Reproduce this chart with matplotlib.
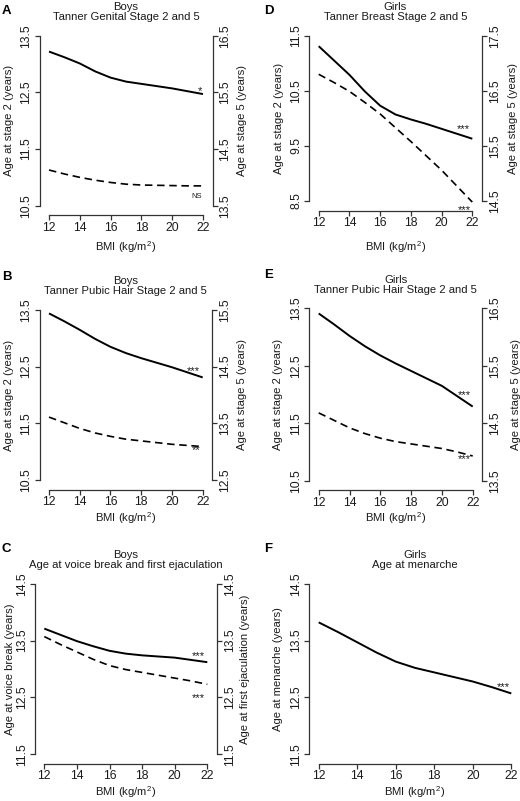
import numpy as np
import matplotlib.pyplot as plt

plt.rcParams['font.family'] = ['Liberation Sans', 'DejaVu Sans']
plt.rcParams['mathtext.fontset'] = 'custom'
plt.rcParams['mathtext.rm'] = 'Liberation Sans'
plt.rcParams['mathtext.it'] = 'Liberation Sans:italic'

W, H = 520, 801

# BMI grid (kg/m2)
bmi = [12, 13, 14, 15, 16, 17, 18, 19, 20, 21, 22]

# A: boys, Tanner genital stage 2 (left axis) and 5 (right axis)
a_stage2 = [13.22, 13.12, 13.01, 12.87, 12.76, 12.69, 12.65, 12.61, 12.57, 12.52, 12.47]
a_stage5 = [14.13, 14.06, 14.00, 13.95, 13.91, 13.88, 13.865, 13.86, 13.855, 13.85, 13.85]

# B: boys, Tanner pubic hair stage 2 and 5
b_stage2 = [13.44, 13.30, 13.15, 12.99, 12.85, 12.74, 12.65, 12.57, 12.49, 12.40, 12.31]
b_stage5 = [13.61, 13.51, 13.41, 13.33, 13.27, 13.22, 13.19, 13.16, 13.13, 13.11, 13.09]

# C: boys, voice break and first ejaculation
c_voice = [13.71, 13.60, 13.49, 13.40, 13.32, 13.27, 13.24, 13.22, 13.20, 13.16, 13.12]
c_ejac = [13.57, 13.43, 13.30, 13.17, 13.06, 12.99, 12.94, 12.89, 12.84, 12.79, 12.73]

# D: girls, Tanner breast stage 2 and 5
d_stage2 = [11.31, 11.05, 10.79, 10.49, 10.23, 10.07, 9.98, 9.90, 9.81, 9.72, 9.63]
d_stage5 = [16.80, 16.65, 16.49, 16.29, 16.08, 15.83, 15.58, 15.32, 15.06, 14.77, 14.48]

# E: girls, Tanner pubic hair stage 2 and 5
e_stage2 = [13.41, 13.22, 13.02, 12.84, 12.68, 12.54, 12.41, 12.28, 12.15, 11.97, 11.79]
e_stage5 = [14.68, 14.55, 14.42, 14.32, 14.24, 14.18, 14.14, 14.10, 14.06, 14.00, 13.93]

# F: girls, menarche
f_menarche = [13.82, 13.65, 13.47, 13.29, 13.13, 13.02, 12.94, 12.86, 12.78, 12.68, 12.57]

x_ticks = [12, 14, 16, 18, 20, 22]

fig = plt.figure(figsize=(W / 100, H / 100), dpi=100)

AX_COL = '#333333'
TXT_COL = '#1a1a1a'
TICK_FS = 8.7
LAB_FS = 8.1


def style_y(ax, lo, side):
    ticks = [lo, lo + 1, lo + 2, lo + 3]
    ax.set_yticks(ticks)
    ax.set_yticklabels([f'{t:.1f}' for t in ticks])
    ax.spines[side].set_bounds(lo, lo + 3)
    ax.spines[side].set_color(AX_COL)
    ax.spines[side].set_linewidth(0.9)
    ax.tick_params(axis='y', direction='out', length=3.5, width=0.9, color=AX_COL,
                   labelsize=TICK_FS, pad=1.5, labelcolor=TXT_COL)
    for lab in ax.get_yticklabels():
        lab.set_rotation(90)
        lab.set_va('center')


def panel(x12, x22, ytop, ybot, lo, letter, letter_xy, sex, topic, ylab, ylab_x, xlab_y,
          left_y, right_lo=None, right_y=None, right_lab=None, rlab_x=None, stars=()):
    pad = 9.5
    pxx = (x22 - x12) / 10.0
    pxy = (ybot - ytop) / 3.0
    ax_l, ax_w = x12 - pad, x22 - x12 + 2 * pad
    ax_b, ax_h = ybot + pad, ybot - ytop + 2 * pad
    ax = fig.add_axes([ax_l / W, 1 - ax_b / H, ax_w / W, ax_h / H])
    ax.set_xlim(12 - pad / pxx, 22 + pad / pxx)
    ax.set_ylim(lo - pad / pxy, lo + 3 + pad / pxy)
    ax.patch.set_alpha(0)
    for s in ['top', 'right']:
        ax.spines[s].set_visible(False)
    ax.spines['bottom'].set_bounds(12, 22)
    ax.spines['bottom'].set_color(AX_COL)
    ax.spines['bottom'].set_linewidth(0.9)
    ax.set_xticks(x_ticks)
    ax.tick_params(axis='x', direction='out', length=3.5, width=0.9, color=AX_COL,
                   labelsize=TICK_FS, pad=1.2, labelcolor=TXT_COL)
    style_y(ax, lo, 'left')
    ax.plot(bmi, left_y, color='black', lw=1.4, solid_capstyle='butt')

    ax.set_xlabel('BMI (kg/m$^2$)', fontsize=LAB_FS, color=TXT_COL)
    ax.xaxis.set_label_coords(0.5, (ax_b - xlab_y) / ax_h)
    ax.xaxis.label.set_va('center')
    ax.set_ylabel(ylab, fontsize=LAB_FS, color=TXT_COL)
    ax.yaxis.set_label_coords((ylab_x - ax_l) / ax_w, 0.5)
    ax.yaxis.label.set_va('center')
    ax.yaxis.label.set_ha('center')

    ax.set_title(f'{sex}\n{topic}', fontsize=8.1, pad=4.5, linespacing=1.0, color=TXT_COL)
    fig.text(letter_xy[0] / W, 1 - letter_xy[1] / H, letter, fontsize=9.5,
             fontweight='bold', ha='left', va='center', color='black')
    tw = None
    if right_y is not None:
        tw = ax.twinx()
        tw.set_ylim(right_lo - pad / pxy, right_lo + 3 + pad / pxy)
        for s in ['top', 'left', 'bottom']:
            tw.spines[s].set_visible(False)
        style_y(tw, right_lo, 'right')
        tw.plot(bmi, right_y, color='black', lw=1.2, ls=(0, (4.5, 2.8)))
        tw.set_ylabel(right_lab, fontsize=LAB_FS, color=TXT_COL)
        tw.yaxis.set_label_coords((rlab_x - ax_l) / ax_w, 0.5)
        tw.yaxis.label.set_va('center')
        tw.yaxis.label.set_ha('center')
    for txt, xv, yv, which, fs in stars:
        target = ax if which == 'L' else tw
        target.text(xv, yv, txt, fontsize=fs, ha='center', va='center', color=TXT_COL)
    return ax


panel(49, 203, 35.7, 205.7, 10.5, 'A', (2, 10.5), 'Boys', 'Tanner Genital Stage 2 and 5',
      'Age at stage 2 (years)', 9, 246.7, a_stage2, 13.5, a_stage5, 'Age at stage 5 (years)', 242.3,
      stars=[('*', 21.8, 12.52, 'L', 8), ('NS', 21.6, 13.66, 'R', 5.5)])

panel(318.7, 472.3, 35.7, 201, 8.5, 'D', (264, 10.5), 'Girls', 'Tanner Breast Stage 2 and 5',
      'Age at stage 2 (years)', 279.3, 246.7, d_stage2, 14.5, d_stage5, 'Age at stage 5 (years)', 513.3,
      stars=[('***', 21.4, 9.8, 'L', 8), ('***', 21.45, 14.33, 'R', 8)])

panel(49, 202.7, 310, 480, 10.5, 'B', (2, 276.5), 'Boys', 'Tanner Pubic Hair Stage 2 and 5',
      'Age at stage 2 (years)', 9, 518.3, b_stage2, 12.5, b_stage5, 'Age at stage 5 (years)', 242.3,
      stars=[('***', 21.4, 12.42, 'L', 8), ('**', 21.6, 13.02, 'R', 8)])

panel(318.7, 472.7, 308.3, 480.7, 10.5, 'E', (264, 275), 'Girls', 'Tanner Pubic Hair Stage 2 and 5',
      'Age at stage 2 (years)', 278.3, 518.3, e_stage2, 13.5, e_stage5, 'Age at stage 5 (years)', 516,
      stars=[('***', 21.45, 11.99, 'L', 8), ('***', 21.45, 13.87, 'R', 8)])

panel(44.3, 207.3, 583.7, 754.3, 11.5, 'C', (2, 549), 'Boys', 'Age at voice break and first ejaculation',
      'Age at voice break (years)', 10, 791.7, c_voice, 11.5, c_ejac, 'Age at first ejaculation (years)', 245,
      stars=[('***', 21.45, 13.22, 'L', 8), ('***', 21.45, 12.48, 'R', 8)])

panel(318.7, 511.3, 583.7, 754.3, 11.5, 'F', (264, 548.5), 'Girls', 'Age at menarche',
      'Age at menarche (years)', 278.3, 791.7, f_menarche,
      stars=[('***', 21.58, 12.68, 'L', 8)])

fig.savefig('out.png', dpi=100)
